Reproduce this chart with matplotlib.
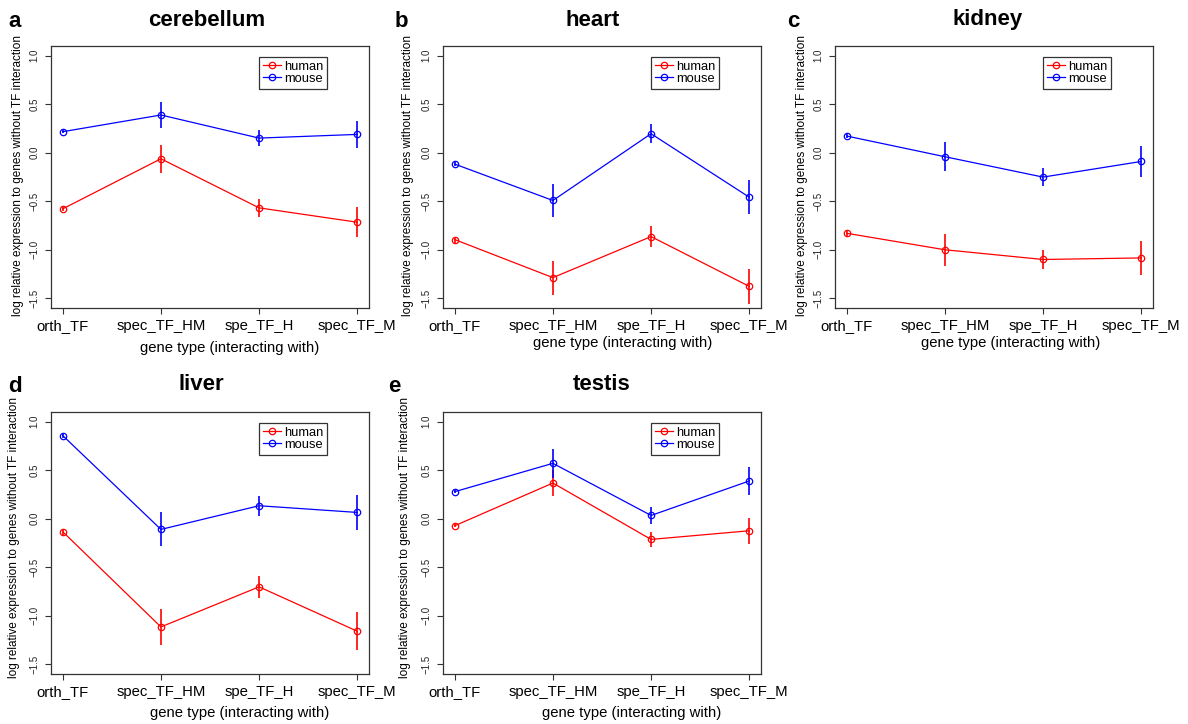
import matplotlib
matplotlib.use("Agg")
import matplotlib.pyplot as plt
from matplotlib.lines import Line2D

plt.rcParams['font.family'] = ['Liberation Sans', 'DejaVu Sans']

# gene types on the x axis
categories = ['orth_TF', 'spec_TF_HM', 'spe_TF_H', 'spec_TF_M']
tissues = ['cerebellum', 'heart', 'kidney', 'liver', 'testis']
letters = ['a', 'b', 'c', 'd', 'e']

# mean log relative expression and error (half length of the bar)
cerebellum_human = [-0.578, -0.062, -0.568, -0.716]
cerebellum_human_err = [0.02, 0.145, 0.09, 0.152]
cerebellum_mouse = [0.217, 0.389, 0.151, 0.189]
cerebellum_mouse_err = [0.015, 0.135, 0.08, 0.14]

heart_human = [-0.895, -1.287, -0.864, -1.377]
heart_human_err = [0.03, 0.176, 0.107, 0.184]
heart_mouse = [-0.117, -0.492, 0.196, -0.458]
heart_mouse_err = [0.02, 0.167, 0.098, 0.174]

kidney_human = [-0.83, -1.0, -1.10, -1.084]
kidney_human_err = [0.025, 0.164, 0.096, 0.172]
kidney_mouse = [0.172, -0.041, -0.251, -0.09]
kidney_mouse_err = [0.02, 0.148, 0.09, 0.157]

liver_human = [-0.134, -1.115, -0.702, -1.159]
liver_human_err = [0.03, 0.184, 0.11, 0.194]
liver_mouse = [0.857, -0.110, 0.134, 0.065]
liver_mouse_err = [0.02, 0.175, 0.105, 0.184]

testis_human = [-0.072, 0.368, -0.213, -0.124]
testis_human_err = [0.015, 0.138, 0.079, 0.136]
testis_mouse = [0.279, 0.571, 0.034, 0.389]
testis_mouse_err = [0.015, 0.146, 0.086, 0.146]

yticks = [-1.5, -1.0, -0.5, 0.0, 0.5, 1.0]

human_vals = [cerebellum_human, heart_human, kidney_human, liver_human, testis_human]
human_errs = [cerebellum_human_err, heart_human_err, kidney_human_err, liver_human_err, testis_human_err]
mouse_vals = [cerebellum_mouse, heart_mouse, kidney_mouse, liver_mouse, testis_mouse]
mouse_errs = [cerebellum_mouse_err, heart_mouse_err, kidney_mouse_err, liver_mouse_err, testis_mouse_err]

W, H = 1188, 724
# panel boxes in pixels: left, top, right, bottom
boxes = [(51, 46, 369, 308), (443, 46, 761, 308), (835, 46, 1153, 308),
         (51, 412, 369, 674), (443, 412, 761, 674)]
title_pos = [(207, 26), (593, 26), (988, 25), (201, 390), (602, 390)]
letter_pos = [(8, 27), (395, 27), (787, 27), (8, 392), (388, 392)]
xlabel_pos = [(230, 348), (623, 343), (1011, 343), (240, 713), (632, 713)]
ylabel_pos = [(18, 175), (408, 176), (802, 175), (14, 538), (405, 538)]

fig = plt.figure(figsize=(W / 100, H / 100), dpi=100)

for i, tissue in enumerate(tissues):
    l, t, r, b = boxes[i]
    ax = fig.add_axes([l / W, 1 - b / H, (r - l) / W, (b - t) / H])
    x = range(1, len(categories) + 1)

    for vals, errs, col in [(human_vals[i], human_errs[i], 'red'),
                            (mouse_vals[i], mouse_errs[i], 'blue')]:
        ax.vlines(x, [v - e for v, e in zip(vals, errs)],
                  [v + e for v, e in zip(vals, errs)], color=col, lw=1.2)
        ax.plot(x, vals, color=col, lw=0.9, marker='o', ms=4.6,
                mfc='none', mec=col, mew=0.9)

    ax.set_xlim(0.88, 4.12)
    ax.set_ylim(-1.6, 1.1)
    ax.set_xticks(list(x))
    ax.set_xticklabels(categories, fontsize=10.7)
    ax.set_yticks(yticks)
    ax.set_yticklabels([('%.1f' % v).replace('-', '\u2212') for v in yticks],
                       rotation=90, va='center', fontsize=7, color='#222222')
    ax.tick_params(axis='x', length=4, pad=4, width=0.8, color='#333333')
    ax.tick_params(axis='y', length=4.5, pad=4, width=0.8, color='#333333')
    for sp in ax.spines.values():
        sp.set_color('#333333')
        sp.set_linewidth(0.9)

    handles = [Line2D([], [], color='red', lw=0.9, marker='o', ms=4.6, mfc='none', mew=0.9),
               Line2D([], [], color='blue', lw=0.9, marker='o', ms=4.6, mfc='none', mew=0.9)]
    leg = ax.legend(handles, ['human', 'mouse'], loc='upper left',
                    bbox_to_anchor=(0.654, 0.958), fontsize=9.3, frameon=True,
                    fancybox=False, edgecolor='black', borderaxespad=0,
                    borderpad=0.3, handlelength=1.4, handletextpad=0.25,
                    labelspacing=0.0)
    leg.get_frame().set_linewidth(0.9)

    fig.text(title_pos[i][0] / W, 1 - title_pos[i][1] / H, tissue,
             fontsize=16, fontweight='bold', ha='center', va='baseline')
    fig.text(letter_pos[i][0] / W, 1 - letter_pos[i][1] / H, letters[i],
             fontsize=16, fontweight='bold', ha='left', va='baseline')
    fig.text(xlabel_pos[i][0] / W, 1 - xlabel_pos[i][1] / H,
             'gene type (interacting with)', fontsize=10.7, ha='center', va='center')
    fig.text(ylabel_pos[i][0] / W, 1 - ylabel_pos[i][1] / H,
             'log relative expression to genes without TF interaction',
             fontsize=8.5, rotation=90, ha='center', va='center')

fig.savefig('out.png', dpi=100)
